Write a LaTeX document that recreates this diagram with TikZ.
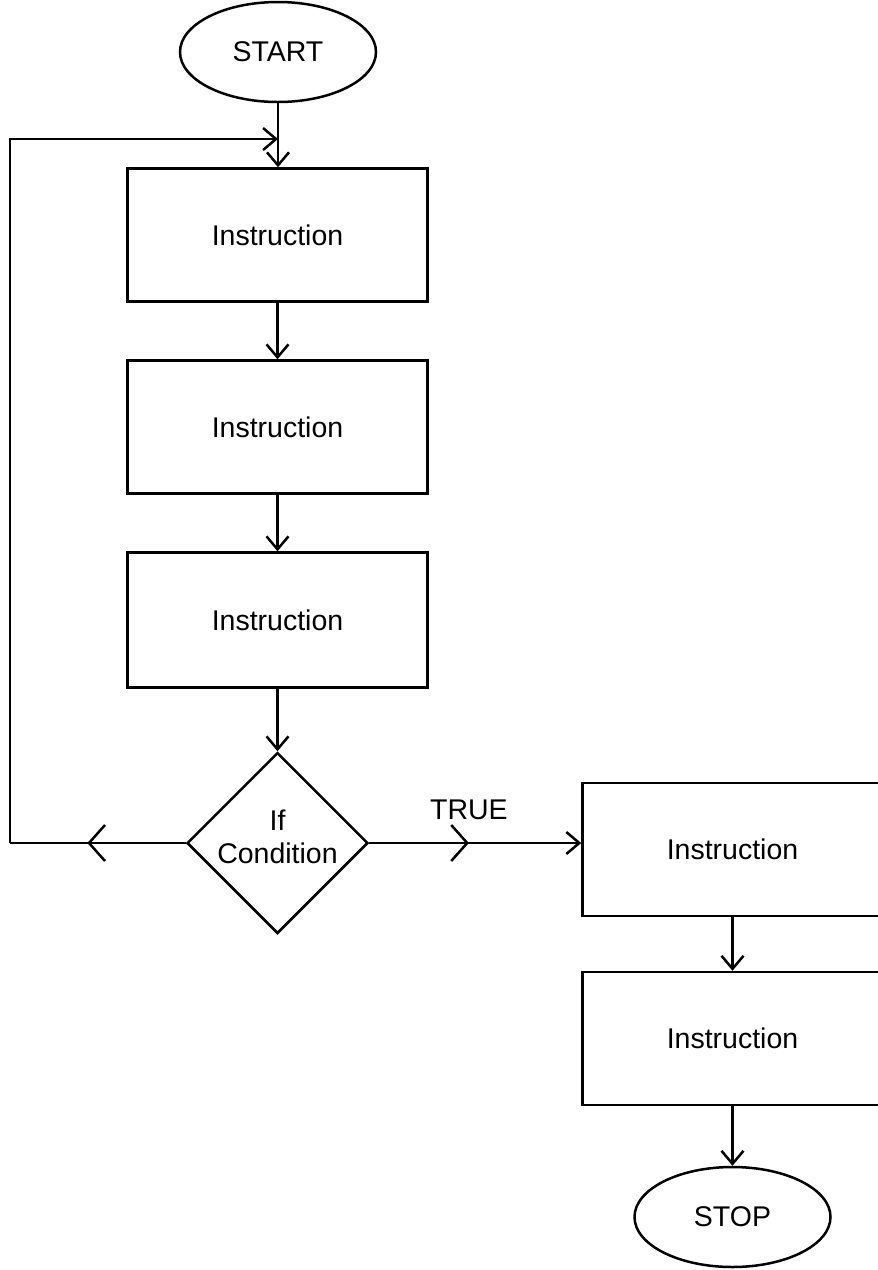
\documentclass[tikz,border=0pt]{standalone}
\usepackage{fontspec}
\setmainfont{Liberation Sans}
\usetikzlibrary{shapes.geometric,arrows.meta,decorations.markings}
\begin{document}
\begin{tikzpicture}[x=1pt,y=-1pt,
  line width=2.5pt,
  every node/.style={font=\fontsize{28.5}{33}\selectfont},
  terminal/.style={draw,ellipse,minimum width=196pt,minimum height=100pt,inner sep=0pt},
  instr/.style={draw,rectangle,minimum width=300pt,minimum height=133pt,inner sep=0pt},
  decision/.style={draw,diamond,minimum width=181pt,minimum height=181pt,inner sep=0pt},
  tip/.style={-{Straight Barb[length=13pt,width=22pt,line width=2.5pt]}},
  midtip/.style={postaction={decorate},decoration={markings,
    mark=at position #1 with {\arrow{Straight Barb[length=16pt,width=36pt,line width=2.5pt]}}}},
]
\useasboundingbox (0,0) rectangle (878,1270);

% main column
\node[terminal] (start) at (278,52) {START};
\node[instr] (i1) at (277.5,235) {Instruction};
\node[instr] (i2) at (277.5,427) {Instruction};
\node[instr,minimum height=135pt] (i3) at (277.5,620) {Instruction};
\node[decision] (cond) at (277.5,843) {};
\node[align=center,yshift=6pt] (condtext) at (cond) {If\\Condition};

% right column
\node[instr] (r1) at (732.5,849.5) {Instruction};
\node[instr] (r2) at (732.5,1038.5) {Instruction};
\node[terminal] (stop) at (732.5,1217) {STOP};

% loop-back corners
\coordinate (loopbot) at (10,843);
\coordinate (looptop) at (10,139);
\coordinate (join) at (start.south |- looptop);

% straight flow
\draw[tip] (start.south) -- (start.south |- i1.north);
\draw[tip] (i1) -- (i2);
\draw[tip] (i2) -- (i3);
\draw[tip] (i3) -- (cond);
\draw[tip] (r1) -- (r2);
\draw[tip] (r2) -- (stop);

% TRUE branch
\draw[tip,midtip=0.47] (cond.east) -- (r1.west |- cond.east)
  node[pos=0.47,above=19pt] (truelbl) {TRUE};

% FALSE branch loops back to the top
\draw[midtip=0.56] (cond.west) -- (loopbot);
\draw[tip] (loopbot) -- (looptop) -- (join);
\end{tikzpicture}
\end{document}
